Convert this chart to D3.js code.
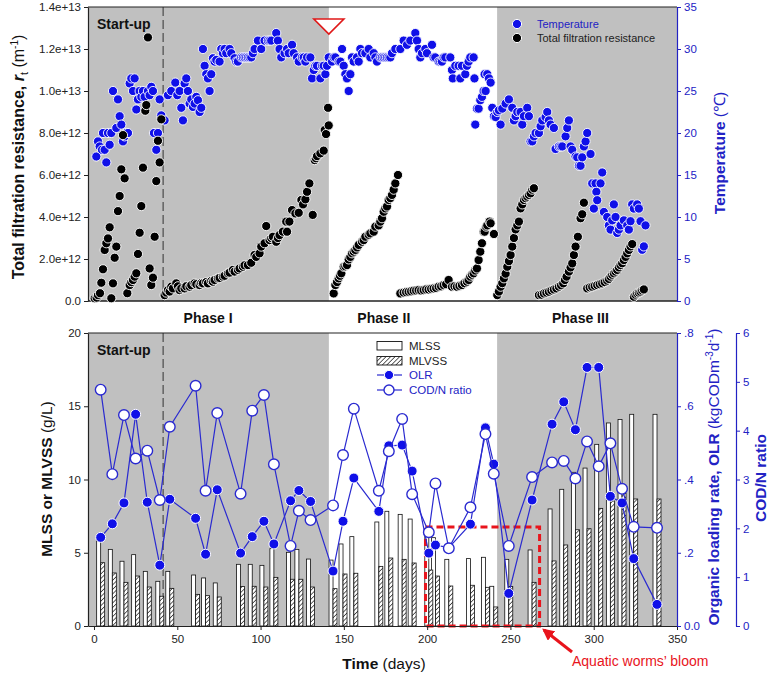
<!DOCTYPE html>
<html><head><meta charset="utf-8">
<script src="https://cdn.jsdelivr.net/npm/d3@7"></script>
<style>
body{margin:0;background:#fff}
text{font-family:Arial,"Liberation Sans",Helvetica,sans-serif}
</style>
</head><body>
<svg id="c" width="771" height="680"></svg>
<script>
// ---------------- DATA ----------------
// Top panel: temperature (°C)
const tempDays = [1.4,2.4,3.4,4.8,5.4,6.4,7.4,8.4,9.4,10.4,11.4,13.4,14.4,15.4,16.4,17.4,18.4,19.4,20.4,21.4,22.4,23.4,24.4,25.4,26.4,27.4,28.4,29.4,30.4,32.4,33.4,34.4,35.4,36.0,37.4,38.4,39.4,40.4,42.4,44.4,46.4,48.8,50.0,51.4,52.4,53.4,54.4,55.4,56.4,57.4,58.4,59.4,60.4,61.4,62.4,63.4,64.4,65.4,66.4,67.4,68.4,69.4,70.4,71.4,72.4,73.4,75.4,76.4,77.4,78.4,79.4,81.4,82.4,84.4,85.4,86.4,88.4,89.4,90.4,91.4,92.4,93.4,94.4,95.4,96.4,98.4,100.4,102.4,104.4,105.4,106.4,109.4,110.4,111.4,112.4,114.4,
115.9,116.9,118.9,119.9,121.9,122.9,124.9,125.9,126.9,127.9,129.9,130.9,131.9,132.9,133.9,135.9,136.9,137.9,138.9,139.9,140.9,142.9,143.9,144.9,146.9,147.9,148.9,149.9,150.9,151.9,152.9,153.9,154.9,155.9,157.9,158.9,159.9,160.9,162.9,164.9,165.9,167.9,168.9,169.9,171.9,172.9,173.9,174.9,175.9,176.9,177.9,178.9,180.9,183.9,185.9,187.9,189.9,192.9,193.9,194.9,195.9,196.9,198.9,199.9,202.9,203.9,204.9,206.9,207.9,208.9,209.9,210.9,213.9,214.9,215.4,216.9,218.9,219.9,220.9,222.9,223.9,224.9,225.9,227.9,228.4,228.9,229.9,230.9,231.9,232.9,233.9,234.5,
235.1,236.1,237.1,238.1,239.1,240.1,241.1,242.1,243.1,244.1,245.1,247.1,249.1,251.1,252.1,253.1,254.1,256.1,257.1,258.1,260.1,261.1,262.1,263.1,264.1,265.1,267.1,268.1,269.1,271.1,272.1,273.1,274.1,276.1,277.1,279.1,280.1,281.1,283.1,284.1,285.1,286.1,287.1,289.1,290.1,291.1,292.1,293.1,294.1,295.1,296.1,298.1,299.1,300.1,301.1,301.6,302.1,304.1,305.1,306.1,308.1,309.1,310.1,311.1,312.1,313.1,314.1,315.1,316.1,318.1,320.1,321.1,322.1,323.1,324.1,326.1,327.1,328.1,329.1,330.1,331.1];
const tempValues = [17.2,19.0,18.4,18.0,20.0,18.0,16.5,20.0,18.6,20.0,25.0,20.6,24.0,22.0,21.0,19.0,19.6,20.0,20.0,25.9,26.5,25.0,26.5,22.8,24.0,25.0,24.3,25.0,24.3,25.0,24.5,25.5,25.0,20.0,18.0,20.0,24.0,22.1,21.5,24.5,25.0,26.0,24.5,25.0,23.0,21.5,25.9,26.5,25.0,23.5,24.0,23.1,23.5,24.3,23.9,22.5,23.0,30.0,28.0,27.0,26.5,25.0,27.0,28.9,28.5,28.7,28.5,30.0,29.5,30.0,29.5,30.0,29.5,28.9,28.5,28.5,29.0,29.0,29.0,29.0,29.0,29.0,29.0,29.5,30.0,31.0,30.0,31.0,31.0,31.0,31.0,31.9,31.0,30.0,29.0,29.5,
30.0,29.5,30.5,29.5,29.0,28.5,29.0,29.0,28.5,29.0,29.0,26.5,27.5,28.0,28.0,26.5,28.0,28.0,27.0,28.0,29.0,28.5,29.0,29.0,28.5,28.5,30.0,28.0,27.0,26.5,25.0,27.0,29.0,28.5,29.0,28.5,30.0,29.5,29.5,30.0,29.0,29.5,29.0,28.5,29.0,29.0,29.0,29.0,29.0,29.0,29.0,29.5,30.0,30.0,31.0,30.5,31.0,31.9,31.0,30.0,29.0,29.5,30.0,29.5,30.5,29.0,29.0,28.5,28.5,28.5,29.0,29.0,29.0,27.5,26.5,28.0,28.0,26.5,28.0,27.0,28.0,28.5,29.0,29.0,26.5,21.0,22.9,22.9,23.9,24.3,25.0,27.0,
25.0,27.0,26.5,26.0,23.0,22.0,21.9,22.5,22.7,21.0,22.9,23.5,24.0,23.0,21.5,22.0,22.5,22.5,21.0,22.0,23.0,22.0,19.0,19.0,19.6,20.0,20.0,20.8,21.5,21.9,22.5,21.5,21.0,20.6,18.1,18.4,18.4,18.4,19.6,20.6,21.5,18.4,18.0,17.2,17.1,16.1,16.1,17.1,18.4,19.0,20.0,17.5,14.0,11.0,14.0,13.0,12.0,14.0,15.3,10.6,10.0,9.0,8.5,9.6,11.5,10.0,8.1,8.5,9.0,9.6,9.0,8.5,9.5,11.5,11.0,11.5,11.0,9.5,6.1,6.5,9.0];

// Top panel: total filtration resistance (x 1e12 m^-1)
const resDays = [0.4,1.6,2.4,3.6,4.4,5.4,6.4,7.4,8.4,9.4,10.4,11.4,12.4,13.4,14.4,15.4,16.4,17.4,18.4,20.0,21.4,22.4,23.4,24.4,25.4,26.4,27.4,28.4,29.4,30.8,31.4,32.4,33.4,34.4,35.4,36.4,37.4,38.4,39.4,40.4,
42.4,43.4,44.4,45.4,46.4,47.4,49.4,50.4,51.4,52.4,54.4,55.4,57.4,58.4,60.4,61.4,63.4,64.4,65.4,67.4,68.4,70.4,71.4,72.4,74.4,75.4,77.4,78.4,80.4,81.4,83.4,84.4,86.4,87.4,89.4,90.4,92.4,94.4,96.4,97.4,99.4,100.4,102.4,103.4,105.4,106.4,107.4,109.4,110.4,111.4,113.4,115.4,115.9,117.3,118.9,120.9,122.9,124.5,125.5,126.9,127.9,129.3,131.3,132.5,133.2,133.9,135.9,137.9,138.5,139.3,140.5,140.9,
143.9,144.9,145.9,146.9,147.7,148.5,149.9,150.9,151.9,152.9,153.9,154.9,155.9,156.9,157.9,158.9,160.9,161.9,162.9,164.9,165.9,167.9,168.9,170.9,171.9,172.9,173.9,174.9,175.9,176.9,177.9,178.9,179.9,180.9,182.5,
183.9,185.9,187.4,188.9,190.4,191.9,193.4,194.9,196.4,197.9,199.4,200.9,202.4,203.9,205.4,206.9,208.4,209.9,211.4,212.9,214.9,216.4,217.9,219.4,220.9,222.4,223.9,224.9,225.9,226.9,227.9,228.9,229.9,230.9,231.9,232.9,233.9,234.5,235.5,236.1,237.5,238.1,240.1,
242.1,243.1,244.1,245.1,246.1,247.1,248.1,249.1,250.1,251.1,252.1,253.1,254.1,255.1,256.1,257.1,258.1,259.1,260.1,261.1,262.1,263.1,264.1,
267.1,268.6,270.1,271.6,273.1,274.6,276.1,277.6,279.1,280.4,281.7,282.7,283.7,285.1,286.1,287.1,288.1,289.1,290.5,292.1,293.1,294.1,
296.1,297.6,299.1,300.6,302.1,303.6,305.1,306.6,308.1,309.1,310.1,311.1,312.1,313.1,314.1,315.1,316.1,317.1,318.1,319.1,320.1,321.1,322.1,323.1,
324.1,325.1,326.1,327.1,328.1,329.1,330.1];
const resValues = [0.13,0.16,0.28,0.37,0.87,1.51,2.43,2.75,2.98,3.51,0.13,0.84,2.06,2.59,4.28,5.0,6.27,7.9,5.84,0.37,0.76,0.9,1.0,1.16,1.32,2.24,3.25,4.52,6.35,9.06,9.33,12.55,1.55,0.76,1.11,3.06,5.71,7.63,6.6,8.65,
0.28,0.4,0.52,0.45,0.68,0.6,0.84,0.7,0.52,0.6,0.6,0.7,0.68,0.75,0.84,0.8,0.76,0.85,0.84,0.9,0.84,0.95,0.92,1.0,1.08,1.1,1.16,1.2,1.32,1.35,1.48,1.4,1.48,1.55,1.63,1.7,1.71,1.82,2.19,2.1,2.27,2.59,2.75,3.57,2.9,3.0,3.06,2.82,3.0,3.14,3.3,3.78,3.3,3.78,4.33,4.17,4.2,4.81,4.6,4.84,5.2,5.6,4.1,6.71,6.8,6.9,7.03,7.16,8.14,7.95,9.2,8.36,
0.36,0.76,0.9,1.08,1.2,1.32,1.63,1.65,1.71,1.98,2.1,2.27,2.35,2.43,2.55,2.67,2.82,2.9,3.06,3.15,3.22,3.3,3.54,3.6,3.78,3.94,4.25,4.41,4.5,4.81,4.9,5.05,5.3,5.6,6.0,
0.36,0.4,0.42,0.44,0.46,0.49,0.5,0.52,0.5,0.52,0.55,0.55,0.58,0.6,0.62,0.68,0.7,0.76,0.8,1.0,0.68,0.7,0.68,0.72,0.76,0.85,0.92,1.0,1.16,1.25,1.32,1.45,1.55,1.95,2.35,2.75,3.3,3.3,3.54,3.6,3.78,3.7,3.19,
0.28,0.45,0.68,0.85,1.08,1.3,1.63,1.9,2.19,2.59,3.0,3.41,3.6,3.78,4.41,4.6,4.81,4.9,4.97,5.05,5.13,5.3,5.37,
0.28,0.3,0.36,0.4,0.44,0.5,0.55,0.6,0.68,0.75,0.84,1.0,1.16,1.4,1.6,1.79,2.19,2.59,3.06,3.94,4.13,4.68,
0.6,0.65,0.68,0.72,0.76,0.8,0.84,0.9,0.97,1.05,1.16,1.25,1.32,1.4,1.48,1.6,1.71,1.8,1.95,2.1,2.27,2.43,2.6,2.71,
0.2,0.3,0.36,0.4,0.44,0.5,0.55];

// Bottom panel
const sampleDays = [4,11,18,25,32,39.5,45.5,61,67,74,88,95,102,108,118,123,130,143.5,149.5,156,171,177,185,191,201,205,213,226,235,240,249,263,275,282,289,296,303,310,317,324,338];
const mlss  = [5.82,5.23,4.42,4.87,3.73,3.05,3.73,3.48,3.28,2.94,4.21,4.21,4.14,5.28,5.03,5.23,4.57,4.5,5.6,6.1,7.1,7.83,7.62,7.3,6.26,6.03,4.55,4.6,4.69,2.71,4.55,5.19,7.99,9.33,10.49,10.78,12.4,13.86,14.1,14.45,14.45];
const mlvss = [4.32,3.62,2.98,3.41,2.66,2.03,2.57,2.16,2.07,1.98,2.69,2.71,2.66,3.32,3.19,3.19,2.66,2.55,3.55,3.6,4.07,4.64,4.55,4.3,3.82,3.41,2.73,2.78,2.64,1.3,2.7,2.98,4.44,5.53,6.57,6.64,8.03,8.53,9.06,8.67,8.67];
const olr   = [0.242,0.279,0.336,0.578,0.338,0.166,0.346,0.294,0.196,0.372,0.199,0.244,0.286,0.224,0.342,0.370,0.340,0.150,0.286,0.404,0.313,0.492,0.494,0.423,0.199,0.221,0.214,0.278,0.541,0.442,0.089,0.344,0.551,0.612,0.536,0.706,0.706,0.354,0.336,0.184,0.059];
const codn  = [4.84,3.11,4.32,3.43,3.59,2.58,4.08,4.92,2.77,4.36,2.71,4.41,4.73,3.31,1.64,2.36,2.17,2.47,3.50,4.45,2.77,3.58,4.24,2.70,1.92,2.92,1.59,2.43,3.93,3.12,1.64,3.05,3.35,3.38,3.02,3.78,3.27,3.74,2.81,2.03,2.01];

// Periods / labels
const shadedPeriods = [[-3.6,141],[242,350]];
const startupEnd = 41.5;
const phaseNames = ["Phase I","Phase II","Phase III"];
const phaseCenters = [68.5,174,292];
const xTicks = [0,50,100,150,200,250,300,350];
const resTicks = [0,2e12,4e12,6e12,8e12,1e13,1.2e13,1.4e13];
const resTickLabels = ["0.0","2.0e+12","4.0e+12","6.0e+12","8.0e+12","1.0e+13","1.2e+13","1.4e+13"];
const tempTicks = [0,5,10,15,20,25,30,35];
const ssTicks = [0,5,10,15,20];
const olrTicks = [0,0.2,0.4,0.6,0.8];
const olrTickLabels = ["0.0",".2",".4",".6",".8"];
const codnTicks = [0,1,2,3,4,5,6];
const codnTickLabels = ["0","1","2","3","4","5","6"];
const bloomPeriod = [199,267.5];
const bloomTop = 6.75;

// ---------------- CHART ----------------
const svg = d3.select('#c');
const BLUE = '#1010e8', AXBLUE = '#2222c4', LINEBLUE = '#2a2ad0', GREY = '#c0c0c0';
const X0 = 88, X1 = 677;
const x = d3.scaleLinear().domain([-3.6,350]).range([X0,X1]);
const yR = d3.scaleLinear().domain([0,1.4e13]).range([301,7]);
const yT = d3.scaleLinear().domain([0,35]).range([301,7]);
const yM = d3.scaleLinear().domain([0,20]).range([626,333]);
const yO = d3.scaleLinear().domain([0,0.8]).range([626,333]);
const yC = d3.scaleLinear().domain([0,6]).range([626,333]);

const defs = svg.append('defs');
const pat = defs.append('pattern').attr('id','hatch').attr('patternUnits','userSpaceOnUse')
  .attr('width',3.2).attr('height',3.2).attr('patternTransform','rotate(45)');
pat.append('rect').attr('width',3.2).attr('height',3.2).attr('fill','#fff');
pat.append('line').attr('x1',0).attr('y1',0).attr('x2',0).attr('y2',3.2).attr('stroke','#111').attr('stroke-width',1.3);

function panel(y0, y1) {
  const g = svg.append('g');
  g.append('rect').attr('x',X0).attr('y',y1).attr('width',X1-X0).attr('height',y0-y1).attr('fill','#fff');
  shadedPeriods.forEach(p => {
    g.append('rect').attr('x',x(p[0])).attr('y',y1).attr('width',x(p[1])-x(p[0])).attr('height',y0-y1).attr('fill',GREY);
  });
  g.append('line').attr('x1',x(startupEnd)).attr('x2',x(startupEnd)).attr('y1',y1).attr('y2',y0)
    .attr('stroke','#333').attr('stroke-width',1).attr('stroke-dasharray','9,4');
  g.append('line').attr('x1',X0).attr('x2',X1).attr('y1',y1).attr('y2',y1).attr('stroke','#222').attr('stroke-width',1.2);
  g.append('text').attr('x',97).attr('y',y1+22).attr('font-size',14).attr('font-weight','bold').attr('fill','#111').text('Start-up');
  return g;
}

function styleAxis(g, color, fs) {
  g.selectAll('path').attr('stroke',color).attr('stroke-width',1.2);
  g.selectAll('line').attr('stroke',color);
  g.selectAll('text').attr('fill',color).attr('font-size',fs||11.5).attr('font-family','Arial,"Liberation Sans",sans-serif');
}

// ---- TOP PANEL ----
panel(301,7);
svg.append('line').attr('x1',X0).attr('x2',X1).attr('y1',301).attr('y2',301).attr('stroke','#222').attr('stroke-width',1.4);

const gTL = svg.append('g').attr('transform',`translate(${X0},0)`)
  .call(d3.axisLeft(yR).tickValues(resTicks).tickFormat((d,i)=>resTickLabels[i]).tickSize(4).tickSizeOuter(0));
styleAxis(gTL,'#222');
const gTR = svg.append('g').attr('transform',`translate(${X1},0)`)
  .call(d3.axisRight(yT).tickValues(tempTicks).tickSize(4).tickSizeOuter(0).tickPadding(3));
styleAxis(gTR,AXBLUE);

const tempData = tempDays.map((d,i)=>({d, v:tempValues[i]}));
const resData = resDays.map((d,i)=>({d, v:resValues[i]*1e12}));
svg.append('g').selectAll('circle').data(tempData).join('circle')
  .attr('cx',p=>x(p.d)).attr('cy',p=>yT(p.v)).attr('r',4.6)
  .attr('fill',BLUE).attr('stroke','#fff').attr('stroke-width',0.9);
svg.append('g').selectAll('circle').data(resData).join('circle')
  .attr('cx',p=>x(p.d)).attr('cy',p=>yR(p.v)).attr('r',4.6)
  .attr('fill','#000').attr('stroke','#fff').attr('stroke-width',0.9);

// red triangle marker at start of phase II
const tx = x(shadedPeriods[0][1]);
svg.append('path').attr('d',`M${tx-15},19 L${tx+15},19 L${tx},34 Z`)
  .attr('fill','#fff').attr('stroke','#e01818').attr('stroke-width',1.6);

// top legend
svg.append('circle').attr('cx',517).attr('cy',24).attr('r',4.6).attr('fill',BLUE).attr('stroke','#fff');
svg.append('text').attr('x',537).attr('y',28).attr('font-size',11).attr('fill',AXBLUE).text('Temperature');
svg.append('circle').attr('cx',517).attr('cy',38).attr('r',4.6).attr('fill','#000').attr('stroke','#fff');
svg.append('text').attr('x',537).attr('y',42).attr('font-size',11).attr('fill','#222').text('Total filtration resistance');

// top titles
const t1 = svg.append('text').attr('transform','translate(24,157) rotate(-90)').attr('text-anchor','middle')
  .attr('font-size',16).attr('fill','#111');
t1.append('tspan').attr('font-weight','bold').text('Total filtration resistance, ');
t1.append('tspan').attr('font-weight','bold').attr('font-style','italic').text('r');
t1.append('tspan').attr('font-size',11).attr('dy',4).text('t');
t1.append('tspan').attr('dy',-4).text(' (m');
t1.append('tspan').attr('font-size',10).attr('dy',-6).text('-1');
t1.append('tspan').attr('dy',6).text(')');

const t2 = svg.append('text').attr('transform','translate(725,153) rotate(-90)').attr('text-anchor','middle')
  .attr('font-size',15.5).attr('fill',AXBLUE);
t2.append('tspan').attr('font-weight','bold').text('Temperature');
t2.append('tspan').text(' (℃)');

// phase labels
phaseNames.forEach((n,i)=>{
  svg.append('text').attr('x',x(phaseCenters[i])).attr('y',323).attr('text-anchor','middle')
    .attr('font-size',14).attr('font-weight','bold').attr('fill','#111').text(n);
});

// ---- BOTTOM PANEL ----
panel(626,333);

const bw = 4;
svg.append('g').selectAll('rect').data(sampleDays).join('rect')
  .attr('x',d=>x(d)-bw).attr('width',bw)
  .attr('y',(d,i)=>yM(mlss[i])).attr('height',(d,i)=>yM(0)-yM(mlss[i]))
  .attr('fill','#fff').attr('stroke','#111').attr('stroke-width',0.8);
svg.append('g').selectAll('rect').data(sampleDays).join('rect')
  .attr('x',d=>x(d)).attr('width',bw)
  .attr('y',(d,i)=>yM(mlvss[i])).attr('height',(d,i)=>yM(0)-yM(mlvss[i]))
  .attr('fill','url(#hatch)').attr('stroke','#111').attr('stroke-width',0.8);

// bloom box
svg.append('rect').attr('x',x(bloomPeriod[0])).attr('y',yM(bloomTop))
  .attr('width',x(bloomPeriod[1])-x(bloomPeriod[0])).attr('height',yM(0)-yM(bloomTop))
  .attr('fill','none').attr('stroke','#e8141c').attr('stroke-width',3).attr('stroke-dasharray','7,4');

// lines
const lineO = d3.line().x((d,i)=>x(sampleDays[i])).y(d=>yO(d));
const lineC = d3.line().x((d,i)=>x(sampleDays[i])).y(d=>yC(d));
svg.append('path').attr('d',lineO(olr)).attr('fill','none').attr('stroke',LINEBLUE).attr('stroke-width',1.2);
svg.append('g').selectAll('circle').data(olr).join('circle')
  .attr('cx',(d,i)=>x(sampleDays[i])).attr('cy',d=>yO(d)).attr('r',5)
  .attr('fill',BLUE).attr('stroke','#fff').attr('stroke-width',1);
svg.append('path').attr('d',lineC(codn)).attr('fill','none').attr('stroke',LINEBLUE).attr('stroke-width',1.2);
svg.append('g').selectAll('circle').data(codn).join('circle')
  .attr('cx',(d,i)=>x(sampleDays[i])).attr('cy',d=>yC(d)).attr('r',5.3)
  .attr('fill','#fff').attr('stroke',LINEBLUE).attr('stroke-width',1.4);

// axes bottom
const gBL = svg.append('g').attr('transform',`translate(${X0},0)`)
  .call(d3.axisLeft(yM).tickValues(ssTicks).tickSize(4).tickSizeOuter(0));
styleAxis(gBL,'#222');
const gBX = svg.append('g').attr('transform','translate(0,626)')
  .call(d3.axisBottom(x).tickValues(xTicks).tickSize(4).tickSizeOuter(0).tickPadding(5));
styleAxis(gBX,'#222');
const gBO = svg.append('g').attr('transform',`translate(${X1},0)`)
  .call(d3.axisRight(yO).tickValues(olrTicks).tickFormat((d,i)=>olrTickLabels[i]).tickSize(4).tickSizeOuter(0));
styleAxis(gBO,AXBLUE);
const gBC = svg.append('g').attr('transform','translate(736,0)')
  .call(d3.axisRight(yC).tickValues(codnTicks).tickFormat((d,i)=>codnTickLabels[i]).tickSize(4).tickSizeOuter(0));
styleAxis(gBC,AXBLUE);

// bottom legend
svg.append('rect').attr('x',377).attr('y',341.5).attr('width',25).attr('height',8.5).attr('fill','#fff').attr('stroke','#111').attr('stroke-width',0.9);
svg.append('text').attr('x',409).attr('y',350).attr('font-size',11.5).attr('fill','#222').text('MLSS');
svg.append('rect').attr('x',377).attr('y',356.5).attr('width',25).attr('height',8.5).attr('fill','url(#hatch)').attr('stroke','#111').attr('stroke-width',0.9);
svg.append('text').attr('x',409).attr('y',365).attr('font-size',11.5).attr('fill','#222').text('MLVSS');
svg.append('line').attr('x1',377).attr('x2',402).attr('y1',375).attr('y2',375).attr('stroke',LINEBLUE).attr('stroke-width',1.2);
svg.append('circle').attr('cx',389).attr('cy',375).attr('r',4.6).attr('fill',BLUE).attr('stroke','#fff');
svg.append('text').attr('x',409).attr('y',379).attr('font-size',11.5).attr('fill',AXBLUE).text('OLR');
svg.append('line').attr('x1',377).attr('x2',402).attr('y1',390).attr('y2',390).attr('stroke',LINEBLUE).attr('stroke-width',1.2);
svg.append('circle').attr('cx',389).attr('cy',390).attr('r',5).attr('fill','#fff').attr('stroke',LINEBLUE).attr('stroke-width',1.4);
svg.append('text').attr('x',409).attr('y',394).attr('font-size',11.5).attr('fill',AXBLUE).text('COD/N ratio');

// bottom titles
const t3 = svg.append('text').attr('transform','translate(52,479) rotate(-90)').attr('text-anchor','middle')
  .attr('font-size',15.5).attr('fill','#111');
t3.append('tspan').attr('font-weight','bold').text('MLSS or MLVSS');
t3.append('tspan').text(' (g/L)');

const t4 = svg.append('text').attr('transform','translate(719,477) rotate(-90)').attr('text-anchor','middle')
  .attr('font-size',15.5).attr('fill',AXBLUE);
t4.append('tspan').attr('font-weight','bold').text('Organic loading rate, OLR');
t4.append('tspan').text(' (kgCODm');
t4.append('tspan').attr('font-size',10).attr('dy',-6).text('-3');
t4.append('tspan').attr('dy',6).text('d');
t4.append('tspan').attr('font-size',10).attr('dy',-6).text('-1');
t4.append('tspan').attr('dy',6).text(')');

svg.append('text').attr('transform','translate(766,478) rotate(-90)').attr('text-anchor','middle')
  .attr('font-size',15.5).attr('font-weight','bold').attr('fill',AXBLUE).text('COD/N ratio');

const t5 = svg.append('text').attr('x',384).attr('y',669).attr('text-anchor','middle').attr('font-size',15.5).attr('fill','#111');
t5.append('tspan').attr('font-weight','bold').text('Time');
t5.append('tspan').text(' (days)');

// annotation arrow + text
defs.append('marker').attr('id','arr').attr('viewBox','0 0 10 10').attr('refX',8).attr('refY',5)
  .attr('markerWidth',4).attr('markerHeight',4).attr('orient','auto')
  .append('path').attr('d','M0,0 L10,5 L0,10 Z').attr('fill','#e8141c');
svg.append('line').attr('x1',572).attr('y1',652).attr('x2',544).attr('y2',630)
  .attr('stroke','#e8141c').attr('stroke-width',3).attr('marker-end','url(#arr)');
svg.append('text').attr('x',572).attr('y',666).attr('font-size',14).attr('fill','#e8141c').text('Aquatic worms’ bloom');
</script>
</body></html>
